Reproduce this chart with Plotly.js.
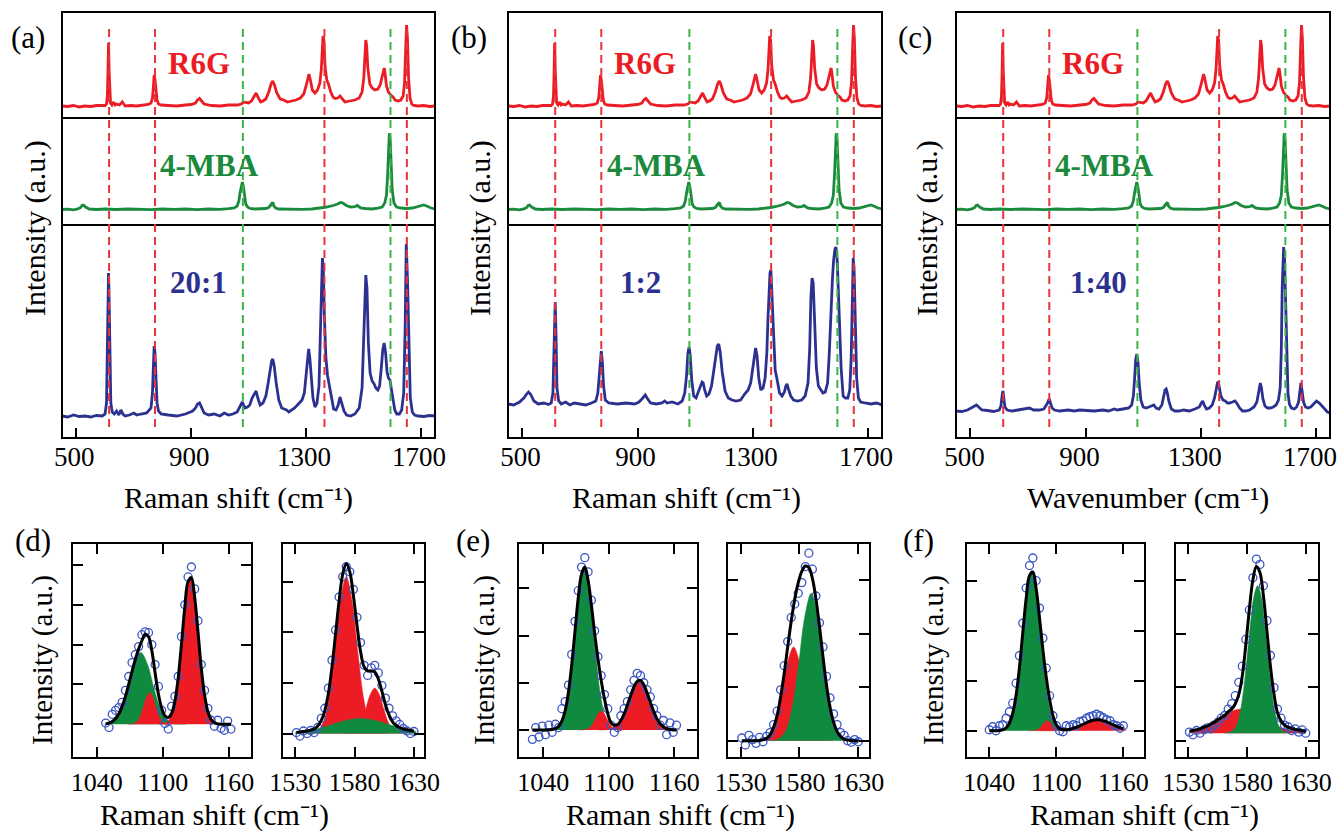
<!DOCTYPE html>
<html>
<head>
<meta charset="utf-8">
<script src="https://cdn.plot.ly/plotly-3.0.1.min.js"></script>
<style>
  html, body { margin: 0; padding: 0; background: #fff; }
  #chart { width: 1341px; height: 836px; }
</style>
</head>
<body>
<div id="chart"></div>
<script>
// ---------------- Raman spectra (upper row) ----------------
// R6G reference spectrum
const r6gShift = [450,470,490,510,530,550,570,590,600,605,608,610,612,614,616,619,624,630,635,640,650,660,670,690,710,730,750,760,765,768,771,774,777,781,786,795,820,850,880,900,915,922,929,936,945,970,1000,1030,1060,1075,1082,1090,1100,1110,1118,1126,1134,1142,1150,1160,1170,1178,1184,1190,1198,1210,1222,1235,1250,1265,1280,1292,1300,1305,1310,1315,1322,1331,1340,1348,1353,1356,1359,1362,1366,1372,1378,1386,1394,1401,1410,1418,1425,1435,1452,1470,1485,1495,1501,1505,1508,1511,1515,1522,1530,1540,1550,1558,1565,1569,1572,1575,1580,1587,1592,1598,1603,1610,1620,1630,1638,1643,1647,1650,1653,1657,1662,1668,1675,1690,1710,1730,1749];
const r6gIntensity = [12,11.5,12.5,11,12,11.5,12.5,12,12.5,14,22,45,75,48,24,15,13,16,13,14,13,16,12,12.5,12,13,13.5,15,20,30,43,38,26,18,14,13,12.5,12,13,13.5,15,18,19.5,17,14,12.5,12,13,13,14,16,15.5,15,17,21,25,20,16,17,19,26,34,37,33,25,19,18,16,17,18,20,24,32,40,44,38,28,25,28,35,48,65,82,78,52,38,34,26,21,19.5,20,22,19,16,17,18,20,26,40,62,78,72,50,34,30,28,29,33,42,49,50,45,32,26,24,22,21,18,17,18,22,35,70,93,80,40,20,14,12.5,12,12.5,11.5,12];

// 4-MBA reference spectrum
const mbaShift = [450,470,490,505,515,520,525,532,545,570,600,640,680,720,760,800,840,880,920,960,1000,1030,1050,1060,1066,1070,1074,1078,1082,1086,1090,1096,1105,1120,1140,1160,1170,1176,1180,1184,1188,1194,1205,1230,1260,1290,1320,1345,1360,1370,1380,1395,1410,1420,1428,1440,1455,1470,1478,1483,1490,1505,1530,1550,1565,1574,1580,1584,1587,1590,1593,1596,1600,1606,1615,1630,1650,1670,1690,1700,1710,1720,1735,1749];
const mbaIntensity = [15.5,15.8,15.2,16,17.5,19.5,20,18,16,15.5,16,15.5,16,15.7,15.3,16,15.6,16,15.4,16,15.7,16.3,17,19,24,32,40,43,38,28,21,18,16.5,16,16.3,16.5,17.5,20,22,22.5,19,17,16,15.8,16.2,15.7,16,16.5,17.5,18,18.5,19.5,21,22.5,22,19.5,18,18.3,19.5,18.5,17,16.5,16,16.8,18,22,30,50,75,91.7,85,60,35,22,18,17,16.5,17,18.5,19.5,20,19,17,16];

// Mixture R6G : 4-MBA = 20:1
const mix20Shift = [450,470,490,510,530,550,570,590,600,605,608,610,612,614,617,620,625,632,640,648,655,662,670,685,700,710,725,745,760,765,768,771,774,777,781,786,795,820,850,880,905,915,922,929,936,945,960,980,1000,1015,1030,1045,1060,1068,1074,1078,1082,1088,1096,1104,1112,1120,1126,1132,1140,1150,1160,1168,1175,1180,1184,1189,1196,1205,1215,1225,1232,1240,1250,1260,1270,1278,1286,1294,1300,1305,1309,1313,1318,1324,1331,1338,1345,1350,1354,1357,1360,1364,1369,1375,1381,1388,1396,1404,1412,1418,1424,1432,1441,1455,1470,1485,1495,1500,1504,1508,1512,1517,1523,1530,1537,1543,1550,1556,1562,1567,1572,1577,1582,1587,1592,1598,1604,1609,1616,1625,1633,1640,1645,1649,1653,1658,1663,1670,1678,1690,1710,1730,1749];
const mix20Intensity = [22,21,23,21.5,22,21,22.5,22,24,35,90,140,165,140,70,35,26,24,27,23,28,24,22,23,25,23,24,25,30,45,70,92,85,58,35,27,24,23,22,24,27,30,34,35,30,25,23,24,22,25,23,24,26,30,34,36,33,30,31,33,40,45,47,40,33,35,42,55,70,77,79,72,55,38,30,29,28,26,28,30,33,36,38,45,62,80,89,80,60,40,31,35,52,95,150,180,170,120,80,62,52,38,29,28,33,41,35,27,23,22,24,30,50,100,145,163,150,95,65,57,54,50,48,52,70,88,95,85,66,60,58,48,36,28,24,24,28,45,110,194,160,80,40,26,23,22,21.5,22.5,22];

// Mixture R6G : 4-MBA = 1:2
const mix12Shift = [450,470,490,505,515,521,528,540,555,575,590,600,606,609,611,614,617,620,626,635,650,665,680,700,720,740,755,762,766,770,774,778,782,788,800,830,860,890,905,915,922,927,933,945,965,985,994,1003,1020,1040,1055,1064,1070,1075,1079,1083,1088,1095,1103,1110,1118,1124,1128,1133,1140,1148,1157,1165,1172,1177,1182,1187,1194,1204,1215,1228,1242,1258,1272,1284,1293,1300,1305,1310,1315,1321,1328,1336,1343,1349,1353,1357,1360,1363,1367,1372,1378,1385,1393,1402,1410,1415,1419,1424,1432,1442,1455,1470,1482,1492,1498,1502,1506,1510,1515,1521,1528,1536,1544,1552,1560,1566,1572,1577,1581,1585,1589,1593,1597,1602,1607,1614,1622,1630,1637,1642,1646,1649,1652,1656,1661,1667,1675,1690,1710,1730,1749];
const mix12Intensity = [34,33,36,40,44,46,44,37,34,35,33.5,35,45,95,125,136,100,50,37,34,36,33,35,34,33,35,37,45,60,80,87,75,52,38,35,34,35,34,36,39,42,43,40,35,34,35,37,35,36,34,37,45,62,85,91,82,58,42,40,45,52,56,55,48,42,44,52,68,84,92,94,86,66,47,40,38,37,38,44,48,55,70,84,90,82,60,48,50,60,85,120,150,165,168,140,95,68,58,45,42,46,52,54,49,42,38,37,38,42,55,90,140,160,155,115,70,52,48,45,46,55,85,135,160,178,188,191,180,150,105,70,42,40,40,48,80,150,180,170,115,60,40,36,35,34,35,33];

// Mixture R6G : 4-MBA = 1:40
const mix140Shift = [450,470,490,505,515,521,528,540,560,580,600,606,610,613,616,620,628,645,665,690,705,720,740,755,763,768,772,775,779,784,792,810,840,860,880,900,930,960,980,1000,1010,1030,1050,1060,1066,1070,1074,1078,1082,1086,1092,1100,1110,1120,1130,1137,1145,1155,1165,1172,1176,1180,1184,1190,1198,1210,1225,1240,1260,1280,1295,1302,1307,1312,1320,1330,1340,1348,1354,1358,1361,1365,1370,1377,1385,1393,1400,1410,1419,1427,1435,1445,1455,1470,1485,1495,1500,1504,1507,1511,1516,1523,1532,1542,1552,1562,1570,1576,1580,1583,1586,1588,1591,1594,1598,1603,1608,1615,1625,1633,1640,1644,1648,1652,1657,1664,1672,1682,1692,1702,1712,1722,1732,1740,1749];
const mix140Intensity = [27,26.5,28,30,32,33,31,28,27.5,26.5,28,32,42,47,40,31,28,27,28,29,30,28,28,29,32,35,38,38,34,30,28,27,28,27,28,27.5,27,28,27,29,28,29,30,33,42,58,78,84,76,56,38,31,30,31,32,33,30,29,33,42,48,49,45,36,29,27,27,28,27,29,31,35,37,33,29,30,33,40,50,55,56,50,42,38,37,35,35,36,37,34,30,27,27,28,31,36,45,53,55,50,39,32,30,30,31,33,38,50,90,150,185,191,180,140,80,45,34,30,29,31,36,46,55,47,36,31,30,31,34,37,35,32,28,26,25];

// Marker band positions (cm-1)
const r6gBands = [614, 774, 1364, 1651];
const mbaBands = [1080, 1594];
const topTicks = [500, 900, 1300, 1700];

// ---------------- Peak fitting (lower row) ----------------
// (d) 1040-1160 region
const dLowShift = [1048,1051,1054,1057,1060,1063,1066,1069,1072,1075,1078,1081,1084,1087,1090,1093,1096,1099,1102,1105,1108,1111,1114,1117,1120,1123,1126,1129,1132,1135,1138,1141,1144,1147,1150,1153,1156,1159,1162];
const dLowData = [0.03,-0.08,0.25,0.35,0.42,0.55,0.85,1.2,1.55,1.75,1.95,2.25,2.32,2.3,2.0,1.5,0.95,0.35,0.02,-0.12,0.45,0.7,1.2,2.2,3.0,3.7,3.95,3.4,2.6,1.5,0.85,0.4,0.1,-0.05,0.1,-0.1,-0.15,0.08,-0.12];
const dLowFit = [0.01,0.03,0.07,0.14,0.26,0.45,0.70,1.01,1.33,1.63,1.89,2.1,2.26,2.2,1.85,1.29,0.76,0.40,0.21,0.17,0.27,0.58,1.16,2.01,2.93,3.58,3.68,3.19,2.33,1.42,0.74,0.32,0.12,0.04,0.01,0,0,0,0];
const dLowGreenShift = [1046,1052,1057,1062,1068,1074,1080,1086,1092,1098,1104,1111,1121];
const dLowGreen = [0,0.016,0.11,0.38,0.9,1.51,1.8,1.51,0.9,0.38,0.11,0.016,0];
const dLowRedAShift = [1068,1072,1076,1079,1082,1085,1088,1091,1094,1097,1100,1104,1108];
const dLowRedA = [0,0.007,0.05,0.17,0.4,0.67,0.8,0.67,0.4,0.17,0.05,0.007,0];
const dLowRedBShift = [1096,1103,1108,1112,1117,1121,1125,1129,1133,1138,1142,1147,1154];
const dLowRedB = [0,0.033,0.23,0.78,1.86,3.13,3.72,3.13,1.86,0.78,0.23,0.033,0];

// (d) 1530-1630 region
const dHighShift = [1531,1534,1537,1540,1543,1546,1549,1552,1555,1558,1561,1564,1567,1570,1573,1576,1579,1582,1585,1588,1591,1594,1597,1600,1603,1606,1609,1612,1615,1618,1621,1624,1627,1630];
const dHighData = [0.02,-0.05,0.05,0,0.06,0.02,0.12,0.3,0.5,0.9,1.45,2.05,2.7,3.1,3.3,3.2,2.85,2.3,1.8,1.35,1.15,1.3,1.35,1.2,0.95,0.7,0.5,0.35,0.25,0.18,0.1,0.05,0,0.04];
const dHighFit = [0.02,0.03,0.04,0.05,0.07,0.09,0.15,0.26,0.46,0.8,1.32,1.97,2.63,3.15,3.36,3.2,2.73,2.15,1.63,1.32,1.24,1.24,1.22,1.08,0.84,0.57,0.37,0.23,0.16,0.12,0.09,0.074,0.06,0.047];
const dHighRedAShift = [1539,1547,1553,1558,1563,1568,1573,1578,1583,1588,1593,1599,1607];
const dHighRedA = [0,0.028,0.19,0.65,1.55,2.61,3.1,2.61,1.55,0.65,0.19,0.028,0];
const dHighRedBShift = [1570,1576,1581,1585,1589,1593,1597,1601,1605,1609,1613,1618,1624];
const dHighRedB = [0,0.008,0.056,0.19,0.45,0.76,0.9,0.76,0.45,0.19,0.056,0.008,0];
const dHighGreenShift = [1530,1544,1557,1571,1585,1599,1613,1626,1632];
const dHighGreen = [0.02,0.063,0.15,0.25,0.3,0.25,0.15,0.063,0.04];

// (e) 1040-1160 region
const eLowShift = [1030,1033,1036,1039,1042,1045,1048,1051,1054,1057,1060,1063,1066,1069,1072,1075,1078,1081,1084,1087,1090,1093,1096,1099,1102,1105,1108,1111,1114,1117,1120,1123,1126,1129,1132,1135,1138,1141,1144,1147,1150,1153,1156,1159,1162];
const eLowData = [-0.2,0.05,-0.15,0.08,-0.1,0.1,-0.05,0.12,0.05,0.45,0.6,0.95,1.6,2.3,2.95,3.45,3.65,3.35,2.75,2.1,1.55,1.15,0.75,0.45,0.1,-0.05,0.05,0.3,0.45,0.6,0.85,1.05,1.2,1.15,1.0,0.85,0.7,0.45,0.3,0.1,0.2,-0.1,0.15,-0.05,0.1];
const eLowFit = [0,0,0,0,0,0.002,0.01,0.03,0.075,0.19,0.41,0.8,1.38,2.09,2.8,3.3,3.45,3.17,2.65,2.05,1.51,1.05,0.66,0.35,0.15,0.1,0.11,0.2,0.34,0.53,0.73,0.91,1.03,1.05,0.96,0.79,0.59,0.4,0.24,0.13,0.066,0.03,0.01,0,0];
const eLowGreenShift = [1043.5,1051.5,1057.5,1062.5,1067.5,1072.5,1077.5,1082.5,1087.5,1092.5,1097.5,1103.5,1111.5];
const eLowGreen = [0,0.031,0.216,0.72,1.73,2.9,3.45,2.9,1.73,0.72,0.216,0.031,0];
const eLowRedAShift = [1072.6,1077.4,1081,1084,1087,1090,1093,1096,1099,1102,1105,1108.6,1113.4];
const eLowRedA = [0,0.004,0.025,0.084,0.2,0.34,0.4,0.34,0.2,0.084,0.025,0.004,0];
const eLowRedBShift = [1090.6,1099.4,1106,1111.5,1117,1122.5,1128,1133.5,1139,1144.5,1150,1156.6,1165.4];
const eLowRedB = [0,0.009,0.066,0.22,0.525,0.88,1.05,0.88,0.525,0.22,0.066,0.009,0];

// (e) 1530-1630 region
const eHighShift = [1531,1534,1537,1540,1543,1546,1549,1552,1555,1558,1561,1564,1567,1570,1573,1576,1579,1582,1585,1588,1591,1594,1597,1600,1603,1606,1609,1612,1615,1618,1621,1624,1627,1630];
const eHighData = [0.05,-0.08,0.1,0.02,-0.05,0.06,-0.02,0.08,0.15,0.3,0.55,0.95,1.4,1.85,2.3,2.55,2.75,2.95,3.25,3.5,3.2,2.7,2.2,1.75,1.2,0.8,0.5,0.3,0.15,0.1,0,-0.03,0.02,-0.02];
const eHighFit = [0,0,0,0,0,0.005,0.016,0.045,0.11,0.25,0.47,0.82,1.25,1.75,2.23,2.64,2.95,3.16,3.26,3.23,3.03,2.65,2.14,1.57,1.04,0.63,0.35,0.17,0.08,0.03,0.01,0,0,0];
const eHighRedShift = [1541,1549,1555,1560,1565,1570,1575,1580,1585,1590,1595,1601,1609];
const eHighRed = [0,0.016,0.11,0.37,0.875,1.47,1.75,1.47,0.875,0.37,0.11,0.016,0];
const eHighGreenShift = [1552.6,1561.4,1568,1573.5,1579,1584.5,1590,1595.5,1601,1606.5,1612,1618.6,1627.4];
const eHighGreen = [0,0.025,0.17,0.58,1.375,2.31,2.75,2.31,1.375,0.58,0.17,0.025,0];

// (f) 1040-1160 region
const fLowShift = [1040,1043,1046,1049,1052,1055,1058,1061,1064,1067,1070,1073,1076,1079,1082,1085,1088,1091,1094,1097,1100,1103,1106,1109,1112,1115,1118,1121,1124,1127,1130,1133,1136,1139,1142,1145,1148,1151,1154,1157,1160];
const fLowData = [0.02,0.08,0,0.1,0.12,0.25,0.38,0.55,0.95,1.5,2.15,2.85,3.3,3.45,3.0,2.45,1.85,1.25,0.7,0.3,0.1,0,-0.02,0.1,0.08,0.12,0.1,0.18,0.2,0.25,0.28,0.3,0.33,0.3,0.26,0.22,0.2,0.12,0.1,0.05,0.1];
const fLowFit = [0,0,0,0.005,0.018,0.055,0.15,0.35,0.71,1.26,1.96,2.64,3.1,3.17,2.83,2.25,1.62,1.07,0.63,0.3,0.12,0.04,0.02,0.02,0.03,0.05,0.07,0.1,0.13,0.16,0.19,0.21,0.22,0.22,0.2,0.18,0.15,0.12,0.09,0.064,0.043];
const fLowGreenShift = [1045.7,1053.3,1059,1063.75,1068.5,1073.25,1078,1082.75,1087.5,1092.25,1097,1102.7,1110.3];
const fLowGreen = [0,0.029,0.2,0.67,1.6,2.69,3.2,2.69,1.6,0.67,0.2,0.029,0];
const fLowRedAShift = [1075,1079,1082,1084.5,1087,1089.5,1092,1094.5,1097,1099.5,1102,1105,1109];
const fLowRedA = [0,0.002,0.0125,0.042,0.1,0.168,0.2,0.168,0.1,0.042,0.0125,0.002,0];
const fLowRedBShift = [1086,1098,1107,1114.5,1122,1129.5,1137,1144.5,1152,1159.5,1162];
const fLowRedB = [0,0.002,0.014,0.046,0.11,0.185,0.22,0.185,0.11,0.046,0.032];

// (f) 1530-1630 region
const fHighShift = [1531,1534,1537,1540,1543,1546,1549,1552,1555,1558,1561,1564,1567,1570,1573,1576,1579,1582,1585,1588,1591,1594,1597,1600,1603,1606,1609,1612,1615,1618,1621,1624,1627,1630];
const fHighData = [0.02,-0.03,0.05,0,0.06,0.1,0.08,0.15,0.2,0.28,0.33,0.45,0.55,0.7,0.95,1.25,1.75,2.3,2.9,3.25,3.15,2.75,2.1,1.45,0.85,0.45,0.28,0.15,0.12,0.05,0.08,0.02,0.06,0];
const fHighFit = [0.04,0.05,0.065,0.08,0.11,0.13,0.17,0.2,0.25,0.29,0.33,0.4,0.45,0.55,0.72,1.07,1.65,2.31,2.86,3.11,3.0,2.56,1.9,1.24,0.72,0.38,0.23,0.15,0.11,0.09,0.07,0.06,0.045,0.035];
const fHighRedShift = [1531,1536,1546,1556,1566,1576,1586,1596,1606,1616,1626,1630];
const fHighRed = [0.04,0.06,0.13,0.26,0.4,0.45,0.4,0.26,0.13,0.06,0.025,0.02];
const fHighGreenShift = [1561,1567,1571,1574,1577,1580,1583,1586,1589,1592,1595,1598,1601,1604,1607,1611,1617];
const fHighGreen = [0,0.037,0.14,0.37,0.79,1.4,2.05,2.56,2.75,2.56,2.05,1.4,0.79,0.37,0.14,0.037,0];

// ---------------- drawing ----------------
const W = 1341, H = 836;
const fx = v => v / W;
const fy = v => 1 - v / H;
const SERIF = "'Liberation Serif', 'Times New Roman', Times, serif";
const RED = '#ec1c24', GREEN_LINE = '#1b8a3d', NAVY = '#2c3190';
const FILL_RED = '#ed1c24', FILL_GREEN = '#0f8a3f', CIRCLE = '#3a56c5';
const DASH_RED = '#e8333a', DASH_GREEN = '#39b54a';
const RAMAN_TITLE = 'Raman shift (cm\u207B\u00B9)';
const WAVENUMBER_TITLE = 'Wavenumber (cm\u207B\u00B9)';

const traces = [];
const layout = {
  width: W, height: H,
  margin: {l: 0, r: 0, t: 0, b: 0, pad: 0},
  paper_bgcolor: '#ffffff', plot_bgcolor: 'rgba(0,0,0,0)',
  showlegend: false,
  font: {family: SERIF, color: '#000', size: 24},
  annotations: [], shapes: []
};
const axName = (k, n) => k + 'axis' + (n === 1 ? '' : n);
const axRef = (k, n) => k + (n === 1 ? '' : n);

function note(text, x, y, size, opts) {
  layout.annotations.push(Object.assign({
    text: text, x: fx(x), y: fy(y), xref: 'paper', yref: 'paper',
    xanchor: 'center', yanchor: 'middle', showarrow: false,
    font: {family: SERIF, size: size, color: '#000'}
  }, opts || {}));
}
function hline(x0, x1, y) {
  layout.shapes.push({type: 'line', xref: 'paper', yref: 'paper', x0: fx(x0), x1: fx(x1), y0: fy(y), y1: fy(y),
    line: {color: '#000', width: 2}, layer: 'above'});
}

// upper row: three panels, each with three stacked spectra
const topPanels = [
  {left: 62,  right: 435,  mix: [mix20Shift, mix20Intensity],  ratio: '20:1', ratioX: 198,  title: RAMAN_TITLE,      titleX: 238,  label: '(a)', labelX: 28,  yTitleX: 35,  labelShift: -2},
  {left: 508, right: 882,  mix: [mix12Shift, mix12Intensity],  ratio: '1:2',  ratioX: 640,  title: RAMAN_TITLE,      titleX: 686,  label: '(b)', labelX: 469, yTitleX: 480, labelShift: -2},
  {left: 956, right: 1330, mix: [mix140Shift, mix140Intensity], ratio: '1:40', ratioX: 1098, title: WAVENUMBER_TITLE, titleX: 1148, label: '(c)', labelX: 915, yTitleX: 927, labelShift: -6}
];
const rowBands = [[12, 118], [118, 225], [225, 438]];
const rowRanges = [[0, 106], [0, 107], [0, 213]];

topPanels.forEach((p, pi) => {
  const rows = [
    [r6gShift, r6gIntensity, RED],
    [mbaShift, mbaIntensity, GREEN_LINE],
    [p.mix[0], p.mix[1], NAVY]
  ];
  rows.forEach((row, ri) => {
    const n = pi * 3 + ri + 1;
    const isBottom = ri === 2;
    layout[axName('x', n)] = {
      domain: [fx(p.left), fx(p.right)], range: [450, 1749], anchor: axRef('y', n),
      showline: false, showgrid: false, zeroline: false,
      ticks: isBottom ? 'inside' : '', tickvals: topTicks, ticklen: 10, tickwidth: 2, tickcolor: '#000',
      showticklabels: isBottom, ticklabeloverflow: 'allow', ticklabelshift: p.labelShift,
      tickfont: {family: SERIF, size: 27, color: '#000'}
    };
    layout[axName('y', n)] = {
      domain: [fy(rowBands[ri][1]), fy(rowBands[ri][0])], range: rowRanges[ri], anchor: axRef('x', n),
      showline: false, showgrid: false, zeroline: false, ticks: '', showticklabels: false
    };
    traces.push({
      type: 'scatter', mode: 'lines', x: row[0], y: row[1],
      xaxis: axRef('x', n), yaxis: axRef('y', n),
      line: {color: row[2], width: 2.8}, hoverinfo: 'skip'
    });
  });
  // frame and row dividers
  layout.shapes.push({type: 'rect', xref: 'paper', yref: 'paper',
    x0: fx(p.left), x1: fx(p.right), y0: fy(438), y1: fy(12),
    line: {color: '#000', width: 2}, fillcolor: 'rgba(0,0,0,0)', layer: 'above'});
  hline(p.left, p.right, 118);
  hline(p.left, p.right, 225);
  const xr = axRef('x', pi * 3 + 3);
  r6gBands.concat(mbaBands).forEach((b, bi) => {
    layout.shapes.push({
      type: 'line', xref: xr, yref: 'paper', x0: b, x1: b, y0: fy(427), y1: fy(24),
      line: {color: bi < r6gBands.length ? DASH_RED : DASH_GREEN, width: 2, dash: '8px,5px'},
      layer: 'above'
    });
  });
  const mid = (p.left + p.right) / 2;
  note('<b>R6G</b>', mid - 50, 63, 31, {font: {family: SERIF, size: 31, color: RED}});
  note('<b>4-MBA</b>', mid - 39, 166, 31, {font: {family: SERIF, size: 31, color: GREEN_LINE}});
  note('<b>' + p.ratio + '</b>', p.ratioX, 282, 31, {font: {family: SERIF, size: 31, color: NAVY}});
  note(p.title, p.titleX, 498, 30);
  note(p.label, p.labelX, 38, 31);
  note('Intensity (a.u.)', p.yTitleX, 228, 30, {textangle: -90});
});

// lower row: fitted peak components
const fitPanels = [
  {left: 72.7,  right: 250.7,  xr: [1018, 1180],     yr: [-0.83, 4.54], yt: [0, 1, 2, 3, 4], xt: [1040, 1100, 1160],
   fills: [[dLowGreenShift, dLowGreen, FILL_GREEN], [dLowRedAShift, dLowRedA, FILL_RED], [dLowRedBShift, dLowRedB, FILL_RED]],
   shift: dLowShift, data: dLowData, fit: dLowFit},
  {left: 283.3, right: 424.3,  xr: [1520, 1638.7],   yr: [-0.47, 3.76], yt: [0, 1, 2, 3], xt: [1530, 1580, 1630],
   fills: [[dHighRedAShift, dHighRedA, FILL_RED], [dHighRedBShift, dHighRedB, FILL_RED], [dHighGreenShift, dHighGreen, FILL_GREEN]],
   shift: dHighShift, data: dHighData, fit: dHighFit},
  {left: 519,   right: 696.7,  xr: [1017.7, 1180.5], yr: [-0.58, 3.95], yt: [0, 1, 2, 3], xt: [1040, 1100, 1160],
   fills: [[eLowGreenShift, eLowGreen, FILL_GREEN], [eLowRedAShift, eLowRedA, FILL_RED], [eLowRedBShift, eLowRedB, FILL_RED]],
   shift: eLowShift, data: eLowData, fit: eLowFit},
  {left: 728.3, right: 869.3,  xr: [1519.5, 1639.4], yr: [-0.31, 3.68], yt: [0, 1, 2, 3], xt: [1530, 1580, 1630],
   fills: [[eHighRedShift, eHighRed, FILL_RED], [eHighGreenShift, eHighGreen, FILL_GREEN]],
   shift: eHighShift, data: eHighData, fit: eHighFit},
  {left: 966.7, right: 1144,   xr: [1019.8, 1178.5], yr: [-0.53, 3.74], yt: [0, 1, 2, 3], xt: [1040, 1100, 1160],
   fills: [[fLowGreenShift, fLowGreen, FILL_GREEN], [fLowRedAShift, fLowRedA, FILL_RED], [fLowRedBShift, fLowRedB, FILL_RED]],
   shift: fLowShift, data: fLowData, fit: fLowFit},
  {left: 1175.7, right: 1317.7, xr: [1519.3, 1640.2], yr: [-0.45, 3.54], yt: [-0.14, 0.86, 1.86, 2.86], xt: [1530, 1580, 1630],
   fills: [[fHighRedShift, fHighRed, FILL_RED], [fHighGreenShift, fHighGreen, FILL_GREEN]],
   shift: fHighShift, data: fHighData, fit: fHighFit}
];

fitPanels.forEach((p, i) => {
  const n = 10 + i;
  const xa = axRef('x', n), ya = axRef('y', n);
  layout[axName('x', n)] = {
    domain: [fx(p.left), fx(p.right)], range: p.xr, anchor: ya,
    showline: true, mirror: 'allticks', linecolor: '#000', linewidth: 2,
    showgrid: false, zeroline: false,
    ticks: 'inside', tickvals: p.xt, ticklen: 10, tickwidth: 2, tickcolor: '#000',
    ticklabeloverflow: 'allow',
    tickfont: {family: SERIF, size: 26, color: '#000'}
  };
  layout[axName('y', n)] = {
    domain: [fy(757.3), fy(543.5)], range: p.yr, anchor: xa,
    showline: true, mirror: 'allticks', linecolor: '#000', linewidth: 2,
    showgrid: false, zeroline: false,
    ticks: 'inside', tickvals: p.yt, ticklen: 10, tickwidth: 2, tickcolor: '#000',
    showticklabels: false
  };
  p.fills.forEach(f => {
    traces.push({
      type: 'scatter', mode: 'lines', x: f[0], y: f[1], xaxis: xa, yaxis: ya,
      fill: 'tozeroy', fillcolor: f[2], line: {color: f[2], width: 0.5, shape: 'spline'},
      hoverinfo: 'skip'
    });
  });
  traces.push({
    type: 'scatter', mode: 'markers', x: p.shift, y: p.data, xaxis: xa, yaxis: ya,
    marker: {symbol: 'circle-open', size: 8, color: CIRCLE, line: {width: 1.3, color: CIRCLE}},
    hoverinfo: 'skip'
  });
  traces.push({
    type: 'scatter', mode: 'lines', x: p.shift, y: p.fit, xaxis: xa, yaxis: ya,
    line: {color: '#000', width: 3, shape: 'spline'}, hoverinfo: 'skip'
  });
});

// lower-row labels
[['(d)', 33], ['(e)', 473], ['(f)', 918]].forEach(l => note(l[0], l[1], 540, 31));
[42, 484, 933].forEach(x => note('Intensity (a.u.)', x, 660, 29, {textangle: -90}));
[214, 680, 1144].forEach(x => note(RAMAN_TITLE, x, 815, 30));

Plotly.newPlot('chart', traces, layout, {displayModeBar: false, staticPlot: true});
</script>
</body>
</html>
